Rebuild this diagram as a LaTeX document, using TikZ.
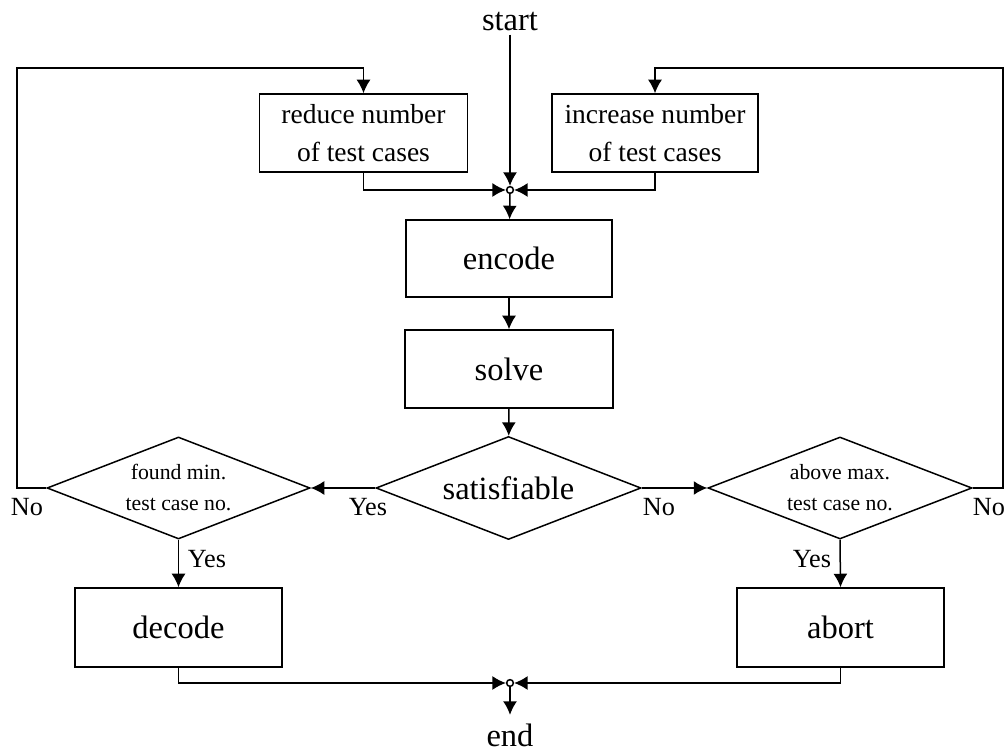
\documentclass[tikz,border=0pt]{standalone}
\usepackage{fontspec}
\setmainfont{Liberation Serif}
\usetikzlibrary{shapes.geometric,arrows.meta}
\begin{document}
\begin{tikzpicture}[x=0.4pt,y=-0.4pt,
  line width=0.6pt,
  >={Latex[length=5.4pt,width=5.6pt]},
  bigfont/.style={font=\fontsize{13}{15.6}\selectfont},
  midfont/.style={font=\fontsize{11}{15.2}\selectfont},
  lblfont/.style={font=\fontsize{10.5}{12}\selectfont},
  smallfont/.style={font=\fontsize{8.7}{12.4}\selectfont},
  procbox/.style={draw, inner sep=0pt, align=center},
  decision/.style={draw, diamond, aspect=2.57, inner sep=0pt, align=center},
  junction/.style={draw, circle, fill=white, inner sep=0pt, minimum size=2.7pt},
  lbl/.style={lblfont, inner sep=0pt}]
\useasboundingbox (0,0) rectangle (1005,750);

% terminals and junctions
\node[bigfont, inner sep=1pt] (start) at (510,22) {start};
\node[bigfont, inner sep=0pt] (end) at (510,735) {end};
\node[junction] (j1) at (510,190) {};
\node[junction] (j2) at (510,683) {};

% process boxes
\node[procbox, midfont, minimum width=83.2pt, minimum height=31.2pt] (reduce) at (363.5,133) {reduce number\\of test cases};
\node[procbox, midfont, minimum width=82.4pt, minimum height=31.2pt] (increase) at (655,133) {increase number\\of test cases};
\node[procbox, bigfont, minimum width=82.4pt, minimum height=30.8pt] (encode) at (509,258.5) {encode};
\node[procbox, bigfont, minimum width=83.2pt, minimum height=31.2pt] (solve) at (509,369) {solve};
\node[procbox, bigfont, minimum width=82.8pt, minimum height=31.6pt] (decode) at (178.5,627.5) {decode};
\node[procbox, bigfont, minimum width=82.8pt, minimum height=31.6pt] (abort) at (840.5,627.5) {abort};

% decisions
\node[decision, bigfont, minimum width=106pt, minimum height=41.2pt] (sat) at (508.5,488) {satisfiable};
\node[decision, smallfont, minimum width=105.2pt, minimum height=40.8pt] (fmin) at (178.5,488) {found min.\\test case no.};
\node[decision, smallfont, minimum width=105.6pt, minimum height=40.8pt] (amax) at (840,488) {above max.\\test case no.};

% loop corners
\coordinate (lc) at (17,68);
\coordinate (rc) at (1003,68);

% main flow
\draw[->] (start) -- (j1);
\draw[->] (reduce.south) |- (j1);
\draw[->] (increase.south) |- (j1);
\draw[->] (j1) -- (encode);
\draw[->] (encode) -- (solve);
\draw[->] (solve) -- (sat);
\draw[->] (sat.west) -- (fmin.east);
\draw[->] (sat.east) -- (amax.west);
\draw[->] (fmin.south) -- (decode.north);
\draw[->] (amax.south) -- (abort.north);
\draw[->] (fmin.west) -| (lc) -| (reduce.north);
\draw[->] (amax.east) -| (rc) -| (increase.north);
\draw[->] (decode.south) |- (j2);
\draw[->] (abort.south) |- (j2);
\draw[->, shorten >=3.2pt] (j2) -- (end);

% branch labels
\node[lbl] (ly1) at (368,507) {Yes};
\node[lbl] (ln1) at (659,507) {No};
\node[lbl] (ln2) at (27,507) {No};
\node[lbl] (ln3) at (989,507) {No};
\node[lbl] (ly2) at (207,559) {Yes};
\node[lbl] (ly3) at (812,559) {Yes};
\end{tikzpicture}
\end{document}
